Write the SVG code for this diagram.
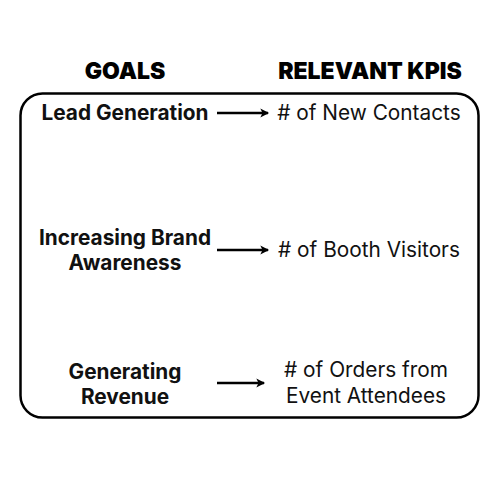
<svg xmlns="http://www.w3.org/2000/svg" width="500" height="500" viewBox="0 0 500 500">
<style>
.h{font-family:Inter,"Liberation Sans",sans-serif;font-weight:900;font-size:23px;fill:#000;text-anchor:middle}
.g{font-family:Inter,"Liberation Sans",sans-serif;font-weight:700;font-size:20.8px;fill:#111;text-anchor:middle}
.k{font-family:Inter,"Liberation Sans",sans-serif;font-weight:400;font-size:20.8px;fill:#111;text-anchor:middle}
.c{stroke:#000;stroke-width:2.5;fill:none;marker-end:url(#ah)}
</style>
<defs>
<marker id="ah" viewBox="0 0 10 10" refX="8" refY="5" markerWidth="4.4" markerHeight="4.4" orient="auto" markerUnits="strokeWidth">
<path d="M1,1 L9,5 L1,9 L3,5 Z" fill="#000"/>
</marker>
</defs>
<rect width="500" height="500" fill="#fff"/>
<g id="frame"><rect x="20.5" y="93.5" width="458" height="324" rx="22" fill="none" stroke="#000" stroke-width="2.5"/></g>
<g id="headers">
<text class="h" x="125" y="79">GOALS</text>
<text class="h" x="370" y="79">RELEVANT KPIS</text>
</g>
<g id="goal1"><text class="g" x="125" y="120">Lead Generation</text></g>
<g id="goal2"><text class="g" x="125" y="245">Increasing Brand</text><text class="g" x="125" y="270">Awareness</text></g>
<g id="goal3"><text class="g" x="125" y="379">Generating</text><text class="g" x="125" y="404">Revenue</text></g>
<g id="kpi1"><text class="k" x="369" y="120"># of New Contacts</text></g>
<g id="kpi2"><text class="k" x="369" y="257"># of Booth Visitors</text></g>
<g id="kpi3"><text class="k" x="366" y="377"># of Orders from</text><text class="k" x="366" y="403">Event Attendees</text></g>
<g id="connectors">
<line class="c" x1="217" y1="113" x2="268" y2="113"/>
<line class="c" x1="217" y1="250" x2="268" y2="250"/>
<line class="c" x1="217" y1="383" x2="264" y2="383"/>
</g>
</svg>
